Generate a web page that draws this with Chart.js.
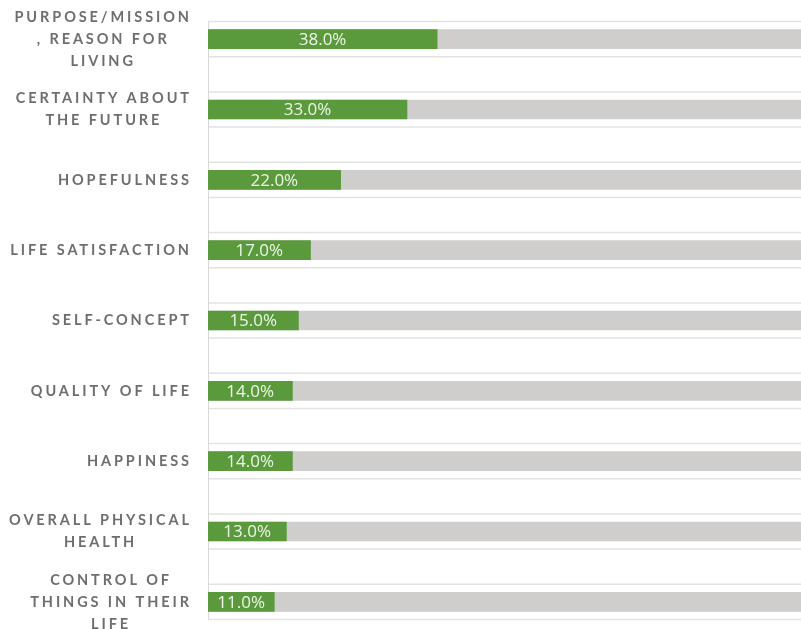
<!DOCTYPE html>
<html>
<head>
<meta charset="utf-8">
<script src="https://cdn.jsdelivr.net/npm/chart.js@4.4.1/dist/chart.umd.min.js"></script>
<style>
  html, body { margin: 0; padding: 0; background: #fff; overflow: hidden; }
  #wrap { position: absolute; left: 0; top: 0; width: 811px; height: 640px; }
</style>
</head>
<body>
<div id="wrap"><canvas id="myChart"></canvas></div>
<script>
// categories (multi-line, as they wrap in the original)
const categories = [
  ['PURPOSE/MISSION', ', REASON FOR', 'LIVING'],
  ['CERTAINTY ABOUT', 'THE FUTURE'],
  ['HOPEFULNESS'],
  ['LIFE SATISFACTION'],
  ['SELF-CONCEPT'],
  ['QUALITY OF LIFE'],
  ['HAPPINESS'],
  ['OVERALL PHYSICAL', 'HEALTH'],
  ['CONTROL OF', 'THINGS IN THEIR', 'LIFE']
];
// share of respondents, percent
const values = [38, 33, 22, 17, 15, 14, 14, 13, 11];
// full-width gray track behind each bar
const track = [100, 100, 100, 100, 100, 100, 100, 100, 100];

const labelFont = 'bold 14.5px Lato';
const labelSpacing = 2.9;

// light lines above and below each bar, plus the axis line
const gridPlugin = {
  id: 'rowLines',
  beforeDatasetsDraw(chart) {
    const ctx = chart.ctx;
    const y = chart.scales.y;
    const area = chart.chartArea;
    const band = (y.getPixelForValue(1) - y.getPixelForValue(0)) / 4;
    ctx.save();
    ctx.strokeStyle = '#e2e2e2';
    ctx.lineWidth = 1.5;
    for (let i = 0; i < categories.length; i++) {
      const c = y.getPixelForValue(i);
      [c - band, c + band].forEach(p => {
        ctx.beginPath();
        ctx.moveTo(area.left, p);
        ctx.lineTo(area.right, p);
        ctx.stroke();
      });
    }
    ctx.strokeStyle = '#d9d9d9';
    ctx.lineWidth = 1;
    ctx.beginPath();
    ctx.moveTo(area.left + 0.5, y.getPixelForValue(0) - band);
    ctx.lineTo(area.left + 0.5, y.getPixelForValue(categories.length - 1) + band);
    ctx.stroke();
    ctx.restore();
  }
};

// category names drawn with letter spacing, block right-aligned, lines centred
const labelPlugin = {
  id: 'catLabels',
  afterDraw(chart) {
    const ctx = chart.ctx;
    const y = chart.scales.y;
    const right = chart.chartArea.left - 19;
    const lineH = 22;
    ctx.save();
    ctx.font = labelFont;
    ctx.letterSpacing = labelSpacing + 'px';
    ctx.fillStyle = '#6e6e6e';
    ctx.textBaseline = 'middle';
    ctx.textAlign = 'left';
    categories.forEach((lines, i) => {
      const widths = lines.map(l => ctx.measureText(l).width - labelSpacing);
      const W = Math.max(...widths);
      const cy = y.getPixelForValue(i);
      const top = cy - (lines.length - 1) * lineH / 2;
      lines.forEach((l, j) => {
        ctx.fillText(l, right - W / 2 - widths[j] / 2, top + j * lineH);
      });
    });
    ctx.restore();
  }
};

// percentage text centred in each green bar
const valuePlugin = {
  id: 'barValues',
  afterDatasetsDraw(chart) {
    const ctx = chart.ctx;
    const meta = chart.getDatasetMeta(0);
    const x0 = chart.scales.x.getPixelForValue(0);
    ctx.save();
    ctx.font = '17px "Open Sans"';
    ctx.fillStyle = '#eef6e8';
    ctx.textAlign = 'center';
    ctx.textBaseline = 'middle';
    meta.data.forEach((bar, i) => {
      ctx.fillText(values[i].toFixed(1) + '%', (x0 + bar.x) / 2, bar.y + 1);
    });
    ctx.restore();
  }
};

const ctx = document.getElementById('myChart').getContext('2d');
new Chart(ctx, {
  type: 'bar',
  data: {
    labels: categories,
    datasets: [
      {
        data: values,
        backgroundColor: '#5b9a3c',
        barThickness: 19,
        order: 0
      },
      {
        data: track,
        backgroundColor: '#d0cdcd',
        barThickness: 19,
        order: 1
      }
    ]
  },
  options: {
    indexAxis: 'y',
    responsive: true,
    maintainAspectRatio: false,
    animation: false,
    layout: { padding: { top: 4, bottom: 3, left: 0, right: 0 } },
    datasets: { bar: { grouped: false } },
    scales: {
      x: { display: false, min: 0, max: 100 },
      y: {
        grid: { display: false },
        border: { display: false },
        ticks: { display: false },
        afterFit(scale) { scale.width = 208; }
      }
    },
    plugins: {
      legend: { display: false },
      tooltip: { enabled: false }
    }
  },
  plugins: [gridPlugin, labelPlugin, valuePlugin]
});
</script>
</body>
</html>
